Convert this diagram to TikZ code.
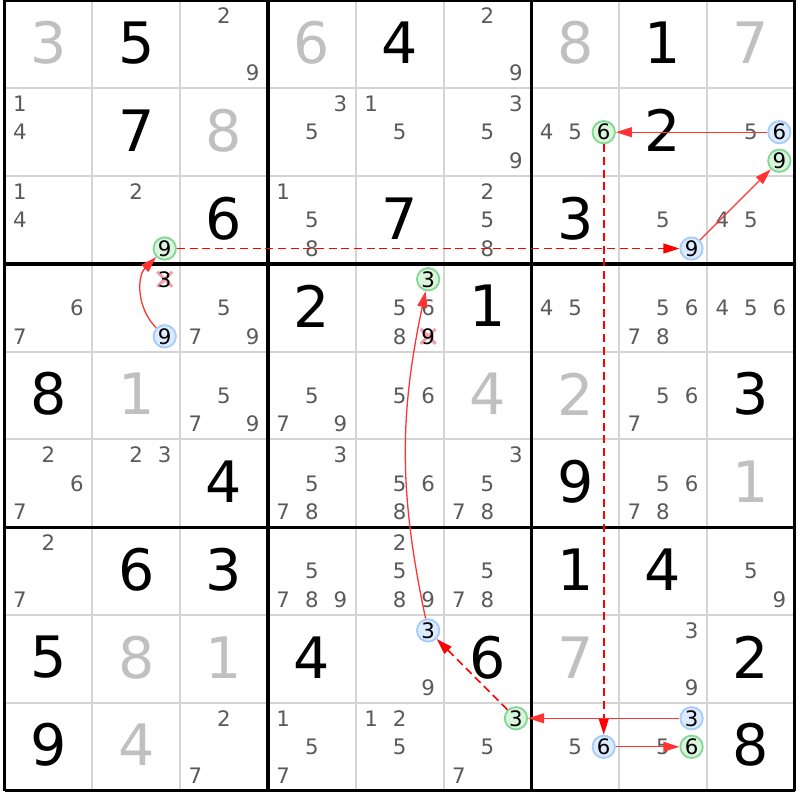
\documentclass[tikz,border=0pt]{standalone}
\usepackage{fontspec}
\setmainfont{DejaVu Sans}
\usetikzlibrary{arrows.meta}

\definecolor{givengray}{HTML}{C0C0C0}
\definecolor{candgray}{HTML}{5A5A5A}
\definecolor{thingray}{HTML}{D4D4D4}
\definecolor{onblue}{HTML}{DCEBFF}
\definecolor{onbluedraw}{HTML}{A6CCFA}
\definecolor{ongreen}{HTML}{DAF5DC}
\definecolor{ongreendraw}{HTML}{84D894}
\definecolor{crosspink}{HTML}{F2A0A8}

\tikzset{
  solved/.style={font=\fontsize{18.5}{20}\selectfont, text=black, inner sep=0pt},
  given/.style={solved, text=givengray},
  cand/.style={font=\fontsize{6.9}{8}\selectfont, text=candgray, inner sep=0pt},
  crossed/.style={cand, text=black},
  oncand/.style={cand, text=black, circle, minimum size=0.255cm, line width=0.6pt},
  bluecand/.style={oncand, draw=onbluedraw, fill=onblue},
  greencand/.style={oncand, draw=ongreendraw, fill=ongreen},
  stronglink/.style={red!80!white, line width=0.42pt, -{Triangle[length=5.2pt,width=3.2pt]}},
  weaklink/.style={red, line width=0.5pt, dash pattern=on 2.6pt off 1.5pt, -{Triangle[length=5.2pt,width=3.2pt]}},
}

\begin{document}
\begin{tikzpicture}
\useasboundingbox (-0.0513,0.0057) rectangle (9.0604,-9.106);

\foreach \i in {1,2,4,5,7,8}{
  \draw[thingray, line width=0.65pt] (\i,0) -- (\i,-9);
  \draw[thingray, line width=0.65pt] (0,-\i) -- (9,-\i);
}
\foreach \i in {0,3,6,9}{
  \draw[black, line width=1.15pt] (\i,0) -- (\i,-9);
  \draw[black, line width=1.15pt] (0,-\i) -- (9,-\i);
}

% solved and given digits
\foreach \r/\c/\d in {1/2/5, 1/5/4, 1/8/1, 2/2/7, 2/8/2, 3/3/6, 3/5/7, 3/7/3,
    4/4/2, 4/6/1, 5/1/8, 5/9/3, 6/3/4, 6/7/9, 7/2/6, 7/3/3, 7/7/1, 7/8/4,
    8/1/5, 8/4/4, 8/6/6, 8/9/2, 9/1/9, 9/9/8}
  \node[solved] (s\r\c) at (\c-0.5,-\r+0.52) {\d};
\foreach \r/\c/\d in {1/1/3, 1/4/6, 1/7/8, 1/9/7, 2/3/8, 5/2/1, 5/6/4, 5/7/2,
    6/9/1, 8/2/8, 8/3/1, 8/7/7, 9/2/4}
  \node[given] (s\r\c) at (\c-0.5,-\r+0.52) {\d};

% candidates
\foreach \r/\c/\ds in {1/3/{2,9}, 1/6/{2,9},
    2/1/{1,4}, 2/4/{3,5}, 2/5/{1,5}, 2/6/{3,5,9}, 2/7/{4,5}, 2/9/{5},
    3/1/{1,4}, 3/2/{2}, 3/4/{1,5,8}, 3/6/{2,5,8}, 3/8/{5}, 3/9/{4,5},
    4/1/{6,7}, 4/3/{5,7,9}, 4/5/{5,6,8}, 4/7/{4,5}, 4/8/{5,6,7,8}, 4/9/{4,5,6},
    5/3/{5,7,9}, 5/4/{5,7,9}, 5/5/{5,6}, 5/8/{5,6,7},
    6/1/{2,6,7}, 6/2/{2,3}, 6/4/{3,5,7,8}, 6/5/{5,6,8}, 6/6/{3,5,7,8}, 6/8/{5,6,7,8},
    7/1/{2,7}, 7/4/{5,7,8,9}, 7/5/{2,5,8,9}, 7/6/{5,7,8}, 7/9/{5,9},
    8/5/{9}, 8/8/{3,9},
    9/3/{2,7}, 9/4/{1,5,7}, 9/5/{1,2,5}, 9/6/{5,7}, 9/7/{5}, 9/8/{5}}{
  \foreach \d in \ds {
    \pgfmathsetmacro{\cx}{\c-0.5+0.325*(mod(\d-1,3)-1)}
    \pgfmathsetmacro{\cy}{-(\r-0.5)-0.325*(floor((\d-1)/3)-1)}
    \node[cand] (n\r\c\d) at (\cx,\cy) {\d};
  }
}

% eliminated candidates
\foreach \r/\c/\d in {4/2/3, 4/5/9}{
  \pgfmathsetmacro{\cx}{\c-0.5+0.325*(mod(\d-1,3)-1)}
  \pgfmathsetmacro{\cy}{-(\r-0.5)-0.325*(floor((\d-1)/3)-1)}
  \draw[crosspink, line width=1pt] (\cx-0.085,\cy-0.085) -- (\cx+0.085,\cy+0.085)
    (\cx-0.085,\cy+0.085) -- (\cx+0.085,\cy-0.085);
  \node[crossed] (n\r\c\d) at (\cx,\cy) {\d};
}

% chain candidates
\foreach \r/\c/\d/\kind in {2/9/6/bluecand, 2/7/6/greencand, 9/7/6/bluecand,
    9/8/6/greencand, 9/8/3/bluecand, 9/6/3/greencand, 8/5/3/bluecand,
    4/5/3/greencand, 4/2/9/bluecand, 3/2/9/greencand, 3/8/9/bluecand,
    2/9/9/greencand}{
  \pgfmathsetmacro{\cx}{\c-0.5+0.325*(mod(\d-1,3)-1)}
  \pgfmathsetmacro{\cy}{-(\r-0.5)-0.325*(floor((\d-1)/3)-1)}
  \node[\kind] (n\r\c\d) at (\cx,\cy) {\d};
}

\draw[stronglink] (n296) -- (n276);
\draw[weaklink] (n276) -- (n976);
\draw[stronglink] (n976) -- (n986);
\draw[stronglink] (n983) -- (n963);
\draw[weaklink] (n963) -- (n853);
\draw[stronglink] (n853) to[bend left=12] (n453);
\draw[stronglink] (n429) to[bend left=45] (n329);
\draw[weaklink] (n329) -- (n389);
\draw[stronglink] (n389) -- (n299);
\end{tikzpicture}
\end{document}
